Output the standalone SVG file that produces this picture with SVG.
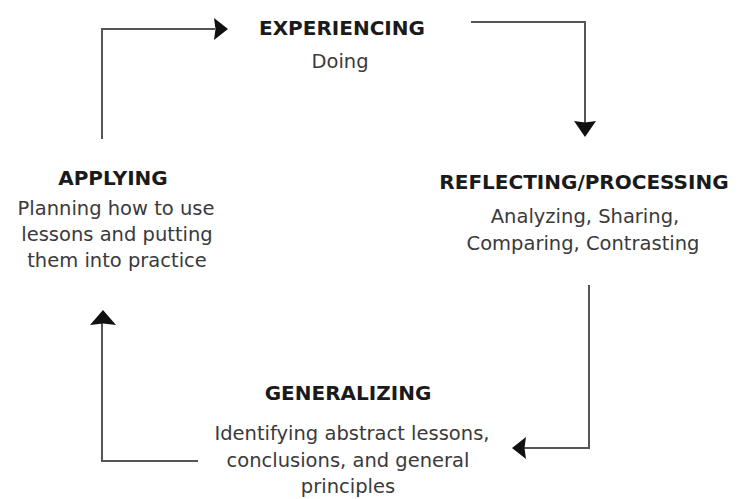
<svg xmlns="http://www.w3.org/2000/svg" width="746" height="499" viewBox="0 0 746 499">
<style>
.t{font-family:"DejaVu Sans",Verdana,sans-serif;font-size:20px;font-weight:bold;fill:#1a1a1a;text-anchor:middle}
.b{font-family:"DejaVu Sans",Verdana,sans-serif;font-size:19.5px;fill:#3a3a3a;text-anchor:middle}
.c{fill:none;stroke:#555;stroke-width:2}
.h{fill:#111}
</style>
<rect width="746" height="499" fill="#fff"/>
<g id="connectors">
<path class="c" d="M102,139 V29 H215"/>
<polygon class="h" points="228,29 214,18 215.5,29 214,40"/>
<path class="c" d="M471,22 H585 V123"/>
<polygon class="h" points="585,137 574,121 585,122.5 596,121"/>
<path class="c" d="M589,285 V448 H524"/>
<polygon class="h" points="512,448 526,437 524.5,448 526,459"/>
<path class="c" d="M198,461 H102 V323"/>
<polygon class="h" points="103,310 90,325 103,323.5 116,325"/>
</g>
<g id="experiencing">
<text class="t" x="342" y="35">EXPERIENCING</text>
<text class="b" x="340" y="68">Doing</text>
</g>
<g id="reflecting">
<text class="t" x="584" y="189">REFLECTING/PROCESSING</text>
<text class="b" x="585" y="223">Analyzing, Sharing,</text>
<text class="b" x="583" y="250">Comparing, Contrasting</text>
</g>
<g id="generalizing">
<text class="t" x="348" y="400">GENERALIZING</text>
<text class="b" x="352" y="440">Identifying abstract lessons,</text>
<text class="b" x="348" y="467">conclusions, and general</text>
<text class="b" x="348" y="493">principles</text>
</g>
<g id="applying">
<text class="t" x="113" y="185">APPLYING</text>
<text class="b" x="116" y="215">Planning how to use</text>
<text class="b" x="117" y="241">lessons and putting</text>
<text class="b" x="117" y="267">them into practice</text>
</g>
</svg>
